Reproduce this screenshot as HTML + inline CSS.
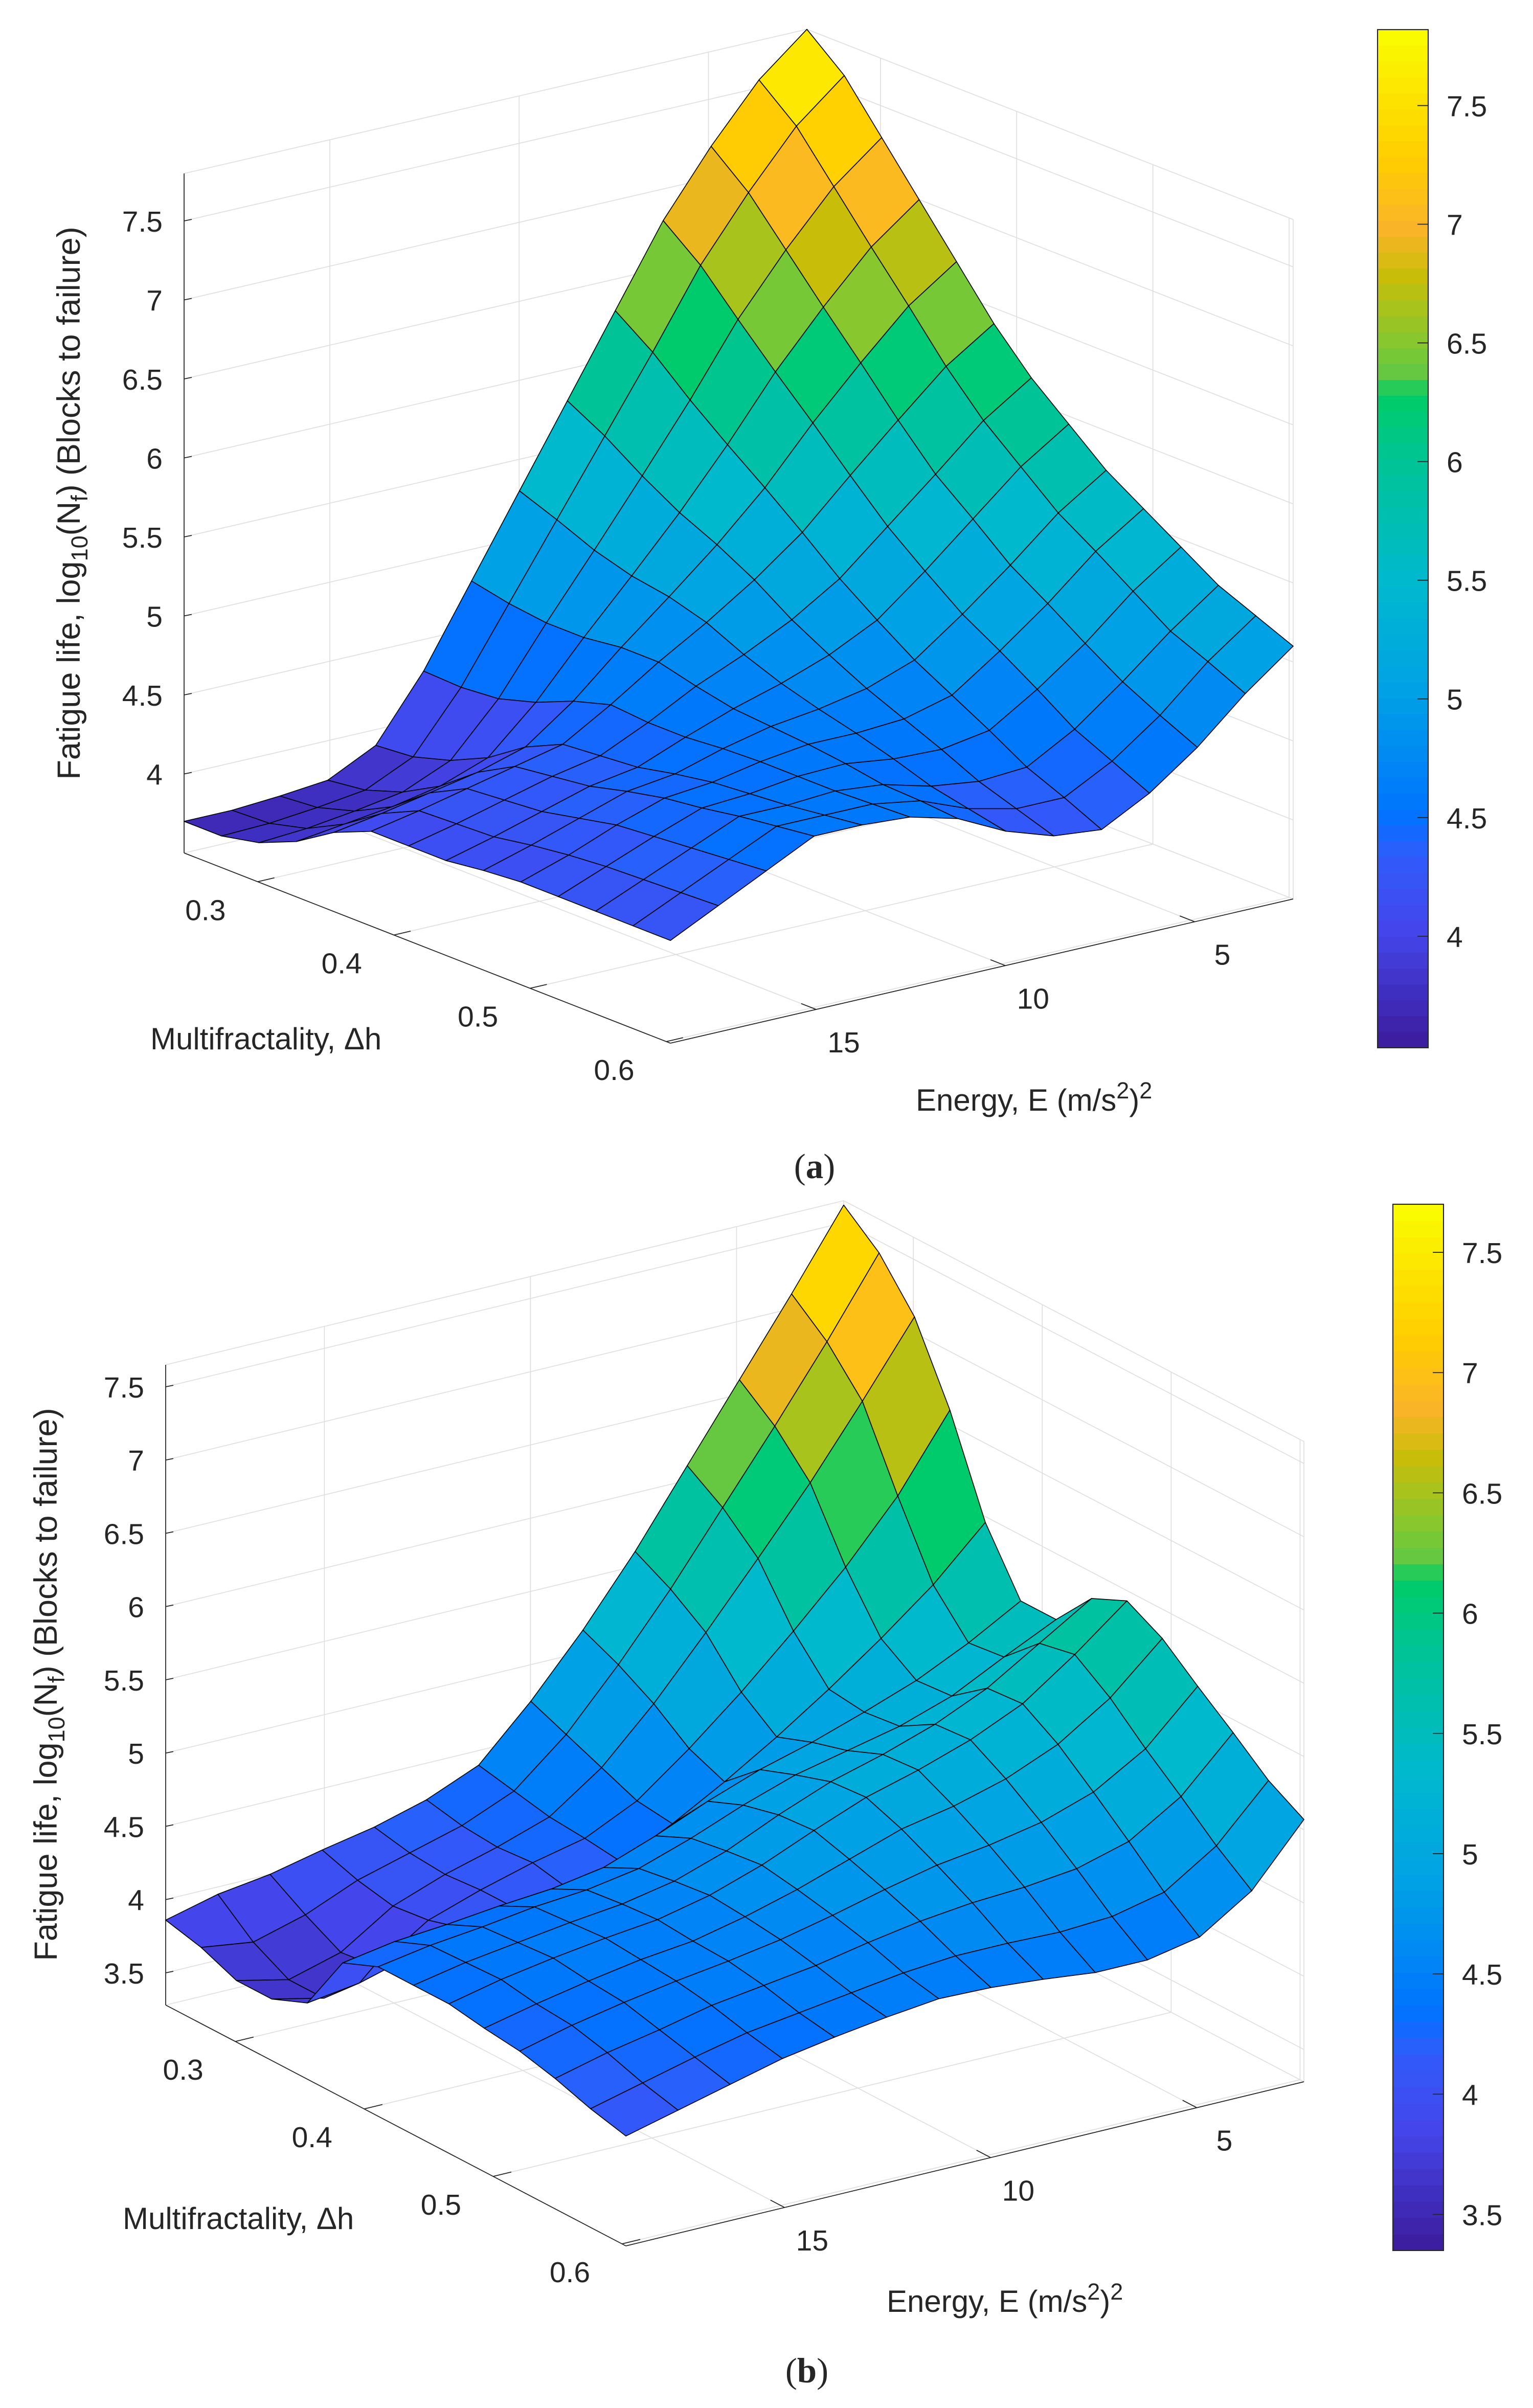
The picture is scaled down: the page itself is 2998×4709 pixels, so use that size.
<!DOCTYPE html>
<html><head><meta charset="utf-8">
<style>
html,body{margin:0;padding:0;background:#fff;}
svg{display:block;}
text{font-family:"Liberation Sans",Arial,sans-serif;fill:#262626;}
</style></head>
<body>
<svg id="fig" xmlns="http://www.w3.org/2000/svg" width="2998" height="4709" viewBox="0 0 999.33 1569.67">
<rect x="0" y="0" width="999.33" height="1569.67" fill="#fff"/>
<g id="panelA"></g>
<g id="panelB"></g>
<text x="531" y="768" text-anchor="middle" font-size="23" style="font-family:'Liberation Serif',serif">(<tspan font-weight="bold">a</tspan>)</text>
<text x="526" y="1553" text-anchor="middle" font-size="23" style="font-family:'Liberation Serif',serif">(<tspan font-weight="bold">b</tspan>)</text>
</svg>
<script>
// ---- data ----
const dhRange = [0.246, 0.603];
const eRange = [18.85, 2.4];
const dhTicks = [0.3, 0.4, 0.5, 0.6];
const eTicks = [15, 10, 5];
const zTicksA = [4, 4.5, 5, 5.5, 6, 6.5, 7, 7.5];
const zTicksB = [3.5, 4, 4.5, 5, 5.5, 6, 6.5, 7, 7.5];
const cbTicksA = [4, 4.5, 5, 5.5, 6, 6.5, 7, 7.5];
const cbTicksB = [3.5, 4, 4.5, 5, 5.5, 6, 6.5, 7, 7.5];
const zA = [
[3.7,3.7,3.72,3.75,3.9,4.3,4.8,5.3,5.8,6.3,6.8,7.2,7.55,7.8],
[3.7,3.71,3.74,3.78,3.92,4.29,4.75,5.21,5.67,6.13,6.61,7.0,7.35,7.6],
[3.75,3.77,3.81,3.86,3.99,4.31,4.72,5.11,5.51,5.92,6.36,6.73,7.06,7.3],
[3.85,3.89,3.93,3.99,4.10,4.38,4.72,5.04,5.37,5.73,6.12,6.46,6.77,7.0],
[4.0,4.05,4.11,4.17,4.26,4.48,4.75,5.0,5.26,5.55,5.89,6.2,6.49,6.7],
[4.1,4.16,4.23,4.30,4.37,4.55,4.75,4.93,5.13,5.36,5.65,5.93,6.2,6.4],
[4.1,4.17,4.25,4.33,4.39,4.53,4.69,4.82,4.97,5.16,5.42,5.68,5.95,6.15],
[4.1,4.18,4.27,4.36,4.41,4.53,4.64,4.73,4.84,4.99,5.23,5.49,5.75,5.95],
[4.13,4.22,4.32,4.42,4.46,4.55,4.62,4.66,4.72,4.83,5.05,5.29,5.55,5.75],
[4.15,4.25,4.37,4.47,4.5,4.56,4.6,4.6,4.62,4.7,4.91,5.14,5.4,5.6],
[4.15,4.27,4.39,4.5,4.52,4.56,4.57,4.53,4.52,4.57,4.76,4.98,5.24,5.45],
[4.15,4.28,4.41,4.54,4.54,4.56,4.53,4.45,4.41,4.43,4.6,4.83,5.08,5.3],
[4.15,4.29,4.43,4.57,4.57,4.57,4.52,4.4,4.33,4.33,4.49,4.71,4.98,5.2],
[4.15,4.3,4.45,4.6,4.6,4.58,4.5,4.35,4.25,4.22,4.38,4.6,4.87,5.1]
];
const zB = [
[3.86,3.95,4.00,4.08,4.15,4.25,4.40,4.75,5.15,5.60,6.10,6.60,7.10,7.62],
[3.80,3.75,3.85,4.00,4.10,4.20,4.35,4.65,5.04,5.47,5.94,6.41,6.90,7.42],
[3.70,3.62,3.72,3.95,4.08,4.18,4.30,4.55,4.90,5.30,5.72,6.15,6.62,7.11],
[3.70,3.62,3.75,3.98,4.10,4.20,4.28,4.45,4.72,5.02,5.35,5.70,6.10,6.60],
[3.80,3.85,3.95,4.05,4.10,4.15,4.25,4.42,4.62,4.84,5.08,5.34,5.62,5.96],
[4.20,4.26,4.29,4.33,4.36,4.42,4.55,4.70,4.83,4.93,5.05,5.18,5.35,5.55],
[4.30,4.36,4.40,4.45,4.48,4.54,4.66,4.80,4.92,5.00,5.08,5.20,5.38,5.55],
[4.30,4.37,4.42,4.47,4.51,4.58,4.70,4.86,5.00,5.10,5.22,5.38,5.60,5.82],
[4.30,4.38,4.44,4.49,4.53,4.61,4.73,4.88,5.02,5.12,5.24,5.40,5.65,5.93],
[4.26,4.34,4.41,4.47,4.51,4.59,4.69,4.81,4.93,5.00,5.10,5.25,5.48,5.80],
[4.23,4.32,4.39,4.45,4.50,4.56,4.64,4.73,4.81,4.86,4.93,5.05,5.26,5.60],
[4.17,4.26,4.33,4.41,4.46,4.51,4.58,4.64,4.68,4.70,4.74,4.84,5.06,5.41],
[4.09,4.18,4.27,4.35,4.40,4.45,4.50,4.53,4.53,4.52,4.54,4.62,4.85,5.21],
[4.03,4.12,4.21,4.30,4.36,4.41,4.45,4.44,4.41,4.37,4.37,4.44,4.67,5.07]
];

// ---- colormap (fraction -> rgb) ----
const cmapStops = [
[0,60,30,160],[0.11,68,70,235],[0.18,50,90,250],[0.226,0,115,255],[0.343,0,160,230],
[0.459,0,185,205],[0.576,0,195,150],[0.646,0,205,100],[0.657,90,200,70],[0.692,130,200,50],
[0.762,200,190,10],[0.809,250,180,40],[0.879,255,205,0],[1,250,250,0]];
function cmap(f){
  f=Math.max(0,Math.min(1,f));
  f=Math.min(63,Math.floor(f*64))/63;
  for(let k=1;k<cmapStops.length;k++){
    const a=cmapStops[k-1],b=cmapStops[k];
    if(f<=b[0]){const t=(f-a[0])/(b[0]-a[0]);
      return 'rgb('+[1,2,3].map(c=>Math.round(a[c]+(b[c]-a[c])*t)).join(',')+')';}
  }
  return 'rgb(250,250,0)';
}
const NS='http://www.w3.org/2000/svg';
function el(tag,attrs,parent){const e=document.createElementNS(NS,tag);for(const k in attrs)e.setAttribute(k,attrs[k]);parent.appendChild(e);return e;}

function drawPanel(g,cfg,Z,zTicks,cbTicks){
  const n=Z.length-1, m=Z[0].length-1;
  const ux=(cfg.F[0]-cfg.L[0])/n, uy=(cfg.F[1]-cfg.L[1])/n;
  const vx=(cfg.R[0]-cfg.F[0])/m, vy=(cfg.R[1]-cfg.F[1])/m;
  const P=(i,j,z)=>[cfg.L[0]+i*ux+j*vx, cfg.L[1]+i*uy+j*vy-(z-cfg.zmin)*cfg.k];
  const iOf=d=>(d-dhRange[0])/(dhRange[1]-dhRange[0])*n;
  const jOf=e=>(eRange[0]-e)/(eRange[0]-eRange[1])*m;
  const gc='#dedede', gw=0.55;
  const line=(a,b,col,w,name)=>{const l=el('line',{x1:a[0],y1:a[1],x2:b[0],y2:b[1],stroke:col,'stroke-width':w},g);
    
    return l;};
  zTicks.forEach(z=>{
    line(P(0,0,z),P(0,m,z),gc,gw,'z-gridline');
    line(P(0,m,z),P(n,m,z),gc,gw,'z-gridline');
  });
  dhTicks.forEach(d=>{const i=iOf(d);
    line(P(i,0,cfg.zmin),P(i,m,cfg.zmin),gc,gw,'dh-gridline');
    line(P(i,m,cfg.zmin),P(i,m,cfg.zmax),gc,gw,'dh-gridline');
  });
  eTicks.forEach(e=>{const j=jOf(e);
    line(P(n,j,cfg.zmin),P(0,j,cfg.zmin),gc,gw,'e-gridline');
    line(P(0,j,cfg.zmin),P(0,j,cfg.zmax),gc,gw,'e-gridline');
  });
  line(P(0,m,cfg.zmin),P(0,m,cfg.zmax),gc,gw,'box-edge');
  line(P(n,m,cfg.zmin),P(n,m,cfg.zmax),gc,gw,'box-edge');
  line(P(0,0,cfg.zmax),P(0,m,cfg.zmax),gc,gw,'box-edge');
  line(P(0,m,cfg.zmax),P(n,m,cfg.zmax),gc,gw,'box-edge');
  line(P(0,m,cfg.zmin),P(n,m,cfg.zmin),gc,gw,'box-edge');
  line(P(0,0,cfg.zmin),P(0,m,cfg.zmin),gc,gw,'box-edge');
  const ac='#262626';
  line(P(0,0,cfg.zmin),P(0,0,cfg.zmax),ac,0.6,'z-axis-line');
  line(P(0,0,cfg.zmin),P(n,0,cfg.zmin),ac,0.6,'dh-axis-line');
  line(P(n,0,cfg.zmin),P(n,m,cfg.zmin),ac,0.6,'e-axis-line');
  zTicks.forEach(z=>{const p=P(0,0,z);
    line(p,[p[0]+5,p[1]-1],ac,0.6,'z-tick');
    const t=el('text',{x:p[0]-14,y:p[1]+7,'text-anchor':'end','font-size':19},g);t.textContent=String(z);
    
    
  });
  dhTicks.forEach(d=>{const p=P(iOf(d),0,cfg.zmin);
    line(p,[p[0]+vx*0.35,p[1]+vy*0.35],ac,0.6,'dh-tick');
    const t=el('text',{x:p[0]-34,y:p[1]+25,'text-anchor':'middle','font-size':19},g);t.textContent=String(d);
    
    
  });
  eTicks.forEach(e=>{const p=P(n,jOf(e),cfg.zmin);
    line(p,[p[0]-ux*0.4,p[1]-uy*0.4],ac,0.6,'e-tick');
    const t=el('text',{x:p[0]+18,y:p[1]+28,'text-anchor':'middle','font-size':19},g);t.textContent=String(e);
    
    
  });
  const cells=[];
  for(let i=0;i<n;i++)for(let j=0;j<m;j++){
    const depth=cfg.L[1]+(i+0.5)*uy+(j+0.5)*vy;
    cells.push([depth,i,j]);
  }
  cells.sort((a,b)=>a[0]-b[0]);
  const sg=el('g',{},g);
  
  
  cells.forEach(([d,i,j])=>{
    const pts=[P(i,j,Z[i][j]),P(i+1,j,Z[i+1][j]),P(i+1,j+1,Z[i+1][j+1]),P(i,j+1,Z[i][j+1])];
    const v=(Z[i][j]+Z[i+1][j]+Z[i+1][j+1]+Z[i][j+1])/4;
    const poly=el('polygon',{points:pts.map(p=>p[0].toFixed(2)+','+p[1].toFixed(2)).join(' '),
      fill:cmap((v-cfg.cmin)/(cfg.cmax-cfg.cmin)),stroke:'#000','stroke-width':0.55,'stroke-linejoin':'round'},sg);
    
    
  });
  const cb=el('g',{},g);
  
  
  const [cx0,cy0,cx1,cy1]=cfg.cb;
  const h=(cy1-cy0)/64;
  for(let s=0;s<64;s++){
    el('rect',{x:cx0,y:cy1-(s+1)*h-0.2,width:cx1-cx0,height:h+0.4,fill:cmap((s+0.5)/64)},cb);
  }
  el('rect',{x:cx0,y:cy0,width:cx1-cx0,height:cy1-cy0,fill:'none',stroke:'#262626','stroke-width':0.7},cb);
  cbTicks.forEach(z=>{const y=cy1-(z-cfg.cmin)/(cfg.cmax-cfg.cmin)*(cy1-cy0);
    el('line',{x1:cx1-7,y1:y,x2:cx1,y2:y,stroke:'#262626','stroke-width':0.6},cb);
    const t=el('text',{x:cx1+12,y:y+7,'font-size':19},cb);t.textContent=String(z);
    
    
  });
  const zl=el('text',{x:0,y:0,'text-anchor':'middle','font-size':21,transform:'translate('+cfg.zlab[0]+','+cfg.zlab[1]+') rotate(-90)'},g);
  zl.innerHTML='Fatigue life, log<tspan font-size="15" dy="5">10</tspan><tspan dy="-5">(N</tspan><tspan font-size="15" dy="5">f</tspan><tspan dy="-5">) (Blocks to failure)</tspan>';
  
  
  const dl=el('text',{x:cfg.dlab[0],y:cfg.dlab[1],'font-size':20},g);
  dl.textContent='Multifractality,  \u0394h';
  
  
  const elb=el('text',{x:cfg.elab[0],y:cfg.elab[1],'font-size':20},g);
  elb.innerHTML='Energy, E (m/s<tspan font-size="15" dy="-8">2</tspan><tspan dy="8">)</tspan><tspan font-size="15" dy="-8">2</tspan>';
  
  
}

drawPanel(document.getElementById('panelA'),
  {L:[120,556],F:[437,680],R:[843,586],zmin:3.5,zmax:7.8,k:103,cmin:3.53,cmax:7.82,
   cb:[898,19.3,931,683],zlab:[52,328],dlab:[98,684],elab:[597,724]},zA,zTicksA,cbTicksA);
drawPanel(document.getElementById('panelB'),
  {L:[108,1307],F:[408,1464],R:[850,1357],zmin:3.28,zmax:7.65,k:95.5,cmin:3.35,cmax:7.70,
   cb:[908,785,941,1467],zlab:[37,1098],dlab:[80,1453],elab:[578,1507]},zB,zTicksB,cbTicksB);
</script>
</body></html>
